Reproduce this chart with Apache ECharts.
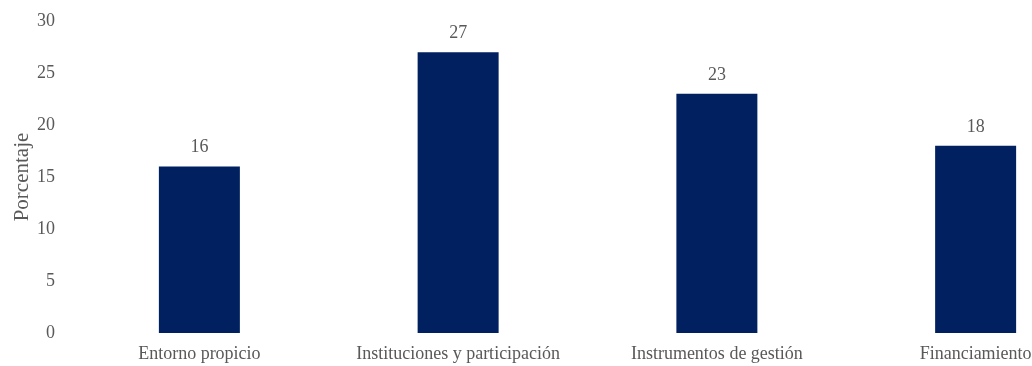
<!DOCTYPE html>
<html><head><meta charset="utf-8">
<script src="https://cdn.jsdelivr.net/npm/echarts@6/dist/echarts.min.js"></script>
<style>html,body{margin:0;padding:0;background:#fff}#c{width:1032px;height:366px}</style>
</head><body><div id="c"></div>
<script>
const categories = ["Entorno propicio", "Instituciones y participación", "Instrumentos de gestión", "Financiamiento"];
const values = [16, 27, 23, 18];
const yTicks = [0, 5, 10, 15, 20, 25, 30];
const yName = "Porcentaje";

const font = "'Liberation Serif', 'Times New Roman', serif";
const textColor = "#595959";
const chart = echarts.init(document.getElementById('c'));
chart.setOption({
  animation: false,
  grid: { left: 70, top: 21, width: 1035, height: 312, outerBoundsMode: 'none', containLabel: false },
  xAxis: {
    type: 'category', data: categories,
    axisLine: { show: false }, axisTick: { show: false },
    axisLabel: { color: textColor, fontFamily: font, fontSize: 18, margin: 12, interval: 0, hideOverlap: false }
  },
  yAxis: {
    type: 'value', min: yTicks[0], max: yTicks[yTicks.length - 1], interval: 5,
    name: yName, nameLocation: 'middle', nameGap: 37, nameRotate: 90, nameMoveOverlap: false,
    nameTextStyle: { color: textColor, fontFamily: font, fontSize: 21 },
    splitLine: { show: false }, axisLine: { show: false }, axisTick: { show: false },
    axisLabel: { color: textColor, fontFamily: font, fontSize: 18, margin: 15 }
  },
  series: [{
    type: 'bar', data: values, barWidth: 81,
    itemStyle: { color: '#002060' },
    label: { show: true, position: 'top', distance: 10, color: textColor, fontFamily: font, fontSize: 18 }
  }]
});
</script></body></html>
